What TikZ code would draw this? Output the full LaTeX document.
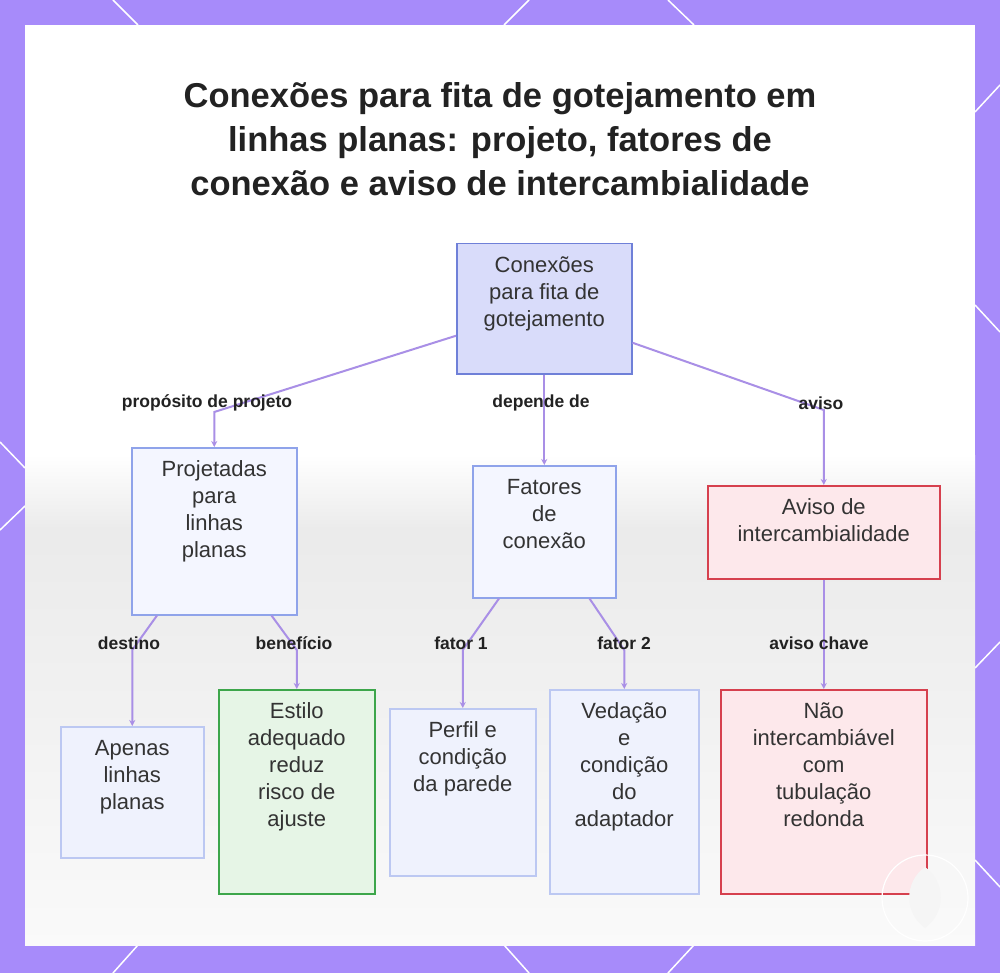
\documentclass[tikz,border=0pt]{standalone}
\usepackage{fontspec}
\setmainfont{Liberation Sans}
\usetikzlibrary{arrows.meta}
\definecolor{bgpurple}{HTML}{A78BFA}
\definecolor{connc}{HTML}{A98FE6}
\definecolor{rootfill}{HTML}{D9DCFA}
\definecolor{rootdraw}{HTML}{6F80D8}
\definecolor{bluefill}{HTML}{F4F6FF}
\definecolor{bluedraw}{HTML}{8FA3EA}
\definecolor{palefill}{HTML}{EFF2FD}
\definecolor{paledraw}{HTML}{BCC8F2}
\definecolor{greenfill}{HTML}{E6F5E6}
\definecolor{greendraw}{HTML}{3DA64B}
\definecolor{redfill}{HTML}{FDE8EB}
\definecolor{reddraw}{HTML}{D6404E}
\definecolor{bodytext}{HTML}{333333}
\definecolor{darktext}{HTML}{222222}
\newcommand{\tbox}[7]{\node[box,#1] (#2) at (#3,#4) {\parbox[t][#6pt][t]{#5pt}{\centering\vspace*{10pt}\strut #7\par}};}
\begin{document}
\begin{tikzpicture}[x=1pt,y=-1pt,
  box/.style={draw, line width=1.5pt, inner sep=0pt, anchor=north west, text=bodytext,
    font=\fontsize{22}{27}\selectfont},
  rootbox/.style={fill=rootfill, draw=rootdraw},
  bluebox/.style={fill=bluefill, draw=bluedraw},
  palebox/.style={fill=palefill, draw=paledraw},
  greenbox/.style={fill=greenfill, draw=greendraw},
  redbox/.style={fill=redfill, draw=reddraw},
  conn/.style={draw=connc, line width=2pt, -{Stealth[length=6pt,width=6pt]}},
  lbl/.style={inner sep=0pt, text=darktext, font=\bfseries\fontsize{17.5}{20}\selectfont},
  ttl/.style={inner sep=0pt, align=center, text=darktext, font=\bfseries\fontsize{34.5}{44}\selectfont},
  deco/.style={white, line width=1.5pt}]
\useasboundingbox (0,0) rectangle (1000,973);
\fill[bgpurple] (0,0) rectangle (1000,973);
% white lattice lines on the border
\draw[deco] (113,0) -- (138,25);
\draw[deco] (529,0) -- (504,25);
\draw[deco] (668,0) -- (694,25);
\draw[deco] (138,945) -- (113,973);
\draw[deco] (504,945) -- (529,973);
\draw[deco] (694,945) -- (668,973);
\draw[deco] (0,442) -- (25,468);
\draw[deco] (25,506) -- (0,530);
\draw[deco] (975,112) -- (1000,85);
\draw[deco] (975,305) -- (1000,332);
\draw[deco] (975,668) -- (1000,642);
\draw[deco] (975,860) -- (1000,887);
% panel
\fill[white] (25,25) rectangle (975,945);
\shade[top color=white, bottom color=black!8] (25,455) rectangle (975,530);
\shade[top color=black!8, bottom color=black!2] (25,530) rectangle (975,945);
% title
\node[ttl] (title) at (500,139) {Conexões para fita de gotejamento em\\linhas planas: projeto, fatores de\\conexão e aviso de intercambialidade};
% boxes
\tbox{rootbox}{root}{456}{243}{175}{130}{Conexões\\para fita de\\gotejamento}
\tbox{bluebox}{proj}{131}{447}{165}{167}{Projetadas\\para\\linhas\\planas}
\tbox{bluebox}{fat}{472}{465}{143}{132}{Fatores\\de\\conexão}
\tbox{redbox}{aviso}{707}{485}{232}{93}{Aviso de\\intercambialidade}
\tbox{palebox}{apenas}{60}{726}{143}{131}{Apenas\\linhas\\planas}
\tbox{greenbox}{estilo}{218}{689}{156}{204}{Estilo\\adequado\\reduz\\risco de\\ajuste}
\tbox{palebox}{perfil}{389}{708}{146}{167}{Perfil e\\condição\\da parede}
\tbox{palebox}{ved}{549}{689}{149}{204}{Vedação\\e\\condição\\do\\adaptador}
\tbox{redbox}{nao}{720}{689}{206}{204}{Não\\intercambiável\\com\\tubulação\\redonda}
% connectors
\draw[conn] ([yshift=-27pt]root.west) -- (proj.north |- 0,412) -- (proj.north);
\draw[conn] (root.south) -- (fat.north);
\draw[conn] ([yshift=-34pt]root.east) -- (aviso.north |- 0,410) -- (aviso.north);
\draw[conn] ([xshift=26pt]proj.south west) -- (apenas.north |- 0,650) -- (apenas.north);
\draw[conn] ([xshift=-26pt]proj.south east) -- (estilo.north |- 0,650) -- (estilo.north);
\draw[conn] ([xshift=27pt]fat.south west) -- (perfil.north |- 0,650) -- (perfil.north);
\draw[conn] ([xshift=-27pt]fat.south east) -- (ved.north |- 0,650) -- (ved.north);
\draw[conn] (aviso.south) -- (nao.north);
% labels
\node[lbl] (l1) at (207,403) {propósito de projeto};
\node[lbl] (l2) at (541,403) {depende de};
\node[lbl] (l3) at (821,403) {aviso};
\node[lbl] (l4) at (129,643) {destino};
\node[lbl] (l5) at (294,643) {benefício};
\node[lbl] (l6) at (461,643) {fator 1};
\node[lbl] (l7) at (624,643) {fator 2};
\node[lbl] (l8) at (819,643) {aviso chave};
% faint watermark
\fill[black!4] (925,867) .. controls (946,882) and (946,913) .. (925,928) .. controls (904,913) and (904,882) .. (925,867);
\draw[white, line width=1.2pt] (925,898) circle[radius=43];
\end{tikzpicture}
\end{document}
